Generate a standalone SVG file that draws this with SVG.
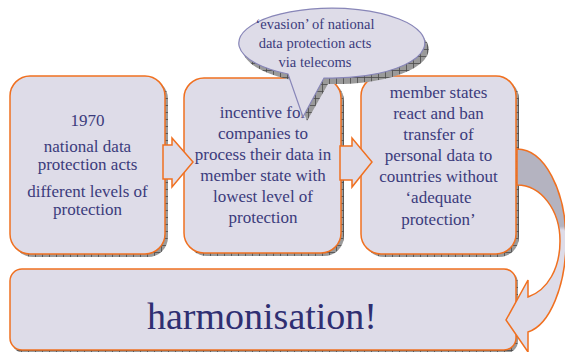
<svg xmlns="http://www.w3.org/2000/svg" width="565" height="352" viewBox="0 0 565 352">
<defs>
<pattern id="hatch" width="7" height="7" patternUnits="userSpaceOnUse">
<rect width="7" height="7" fill="#9a9a9a"/>
<path d="M0,0.5H7M0.5,0V7" stroke="#4a4a4a" stroke-width="0.8"/>
</pattern>
<linearGradient id="curveFill" gradientUnits="userSpaceOnUse" x1="0" y1="149" x2="0" y2="352">
<stop offset="0" stop-color="#b4b3c0"/>
<stop offset="0.38" stop-color="#b4b3c0"/>
<stop offset="0.4" stop-color="#dedce8"/>
<stop offset="1" stop-color="#dedce8"/>
</linearGradient>
</defs>
<style>
.box{fill:#dedce8;stroke:#f07020;stroke-width:1.5}
.shadow{fill:url(#hatch)}
.arrow{fill:#dedce8;stroke:#f07020;stroke-width:1.5;stroke-linejoin:miter}
text{font-family:'Liberation Serif','DejaVu Serif',serif;fill:#3b3b7c;text-anchor:middle}
.t{font-size:17px}
.ct{font-size:14.5px}
.big{font-size:38px;fill:#2f2f72}
</style>
<rect width="565" height="352" fill="#ffffff"/>

<g id="box1">
<rect class="shadow" x="13" y="79" width="155" height="178" rx="20"/>
<rect class="box" x="10" y="76" width="155" height="178" rx="20"/>
<text class="t" x="87.5" y="126">1970</text>
<text class="t" x="87.5" y="152">national data</text>
<text class="t" x="87.5" y="170">protection acts</text>
<text class="t" x="87.5" y="197">different levels of</text>
<text class="t" x="87.5" y="215">protection</text>
</g>

<g id="box2">
<rect class="shadow" x="187" y="81" width="157" height="175" rx="20"/>
<rect class="box" x="184" y="78" width="157" height="175" rx="20"/>
<text class="t" x="263" y="118">incentive for</text>
<text class="t" x="263" y="139">companies to</text>
<text class="t" x="263" y="160">process their data in</text>
<text class="t" x="263" y="181">member state with</text>
<text class="t" x="263" y="202">lowest level of</text>
<text class="t" x="263" y="223">protection</text>
</g>

<g id="box3">
<rect class="shadow" x="364" y="79" width="155" height="178" rx="20"/>
<rect class="box" x="361" y="76" width="155" height="178" rx="20"/>
<text class="t" x="438.5" y="98">member states</text>
<text class="t" x="438.5" y="119">react and ban</text>
<text class="t" x="438.5" y="140">transfer of</text>
<text class="t" x="438.5" y="161">personal data to</text>
<text class="t" x="438.5" y="182">countries without</text>
<text class="t" x="438.5" y="203">‘adequate</text>
<text class="t" x="438.5" y="225">protection’</text>
</g>

<g id="box4">
<rect class="shadow" x="12" y="271" width="506" height="82" rx="12"/>
<rect class="box" x="10" y="269" width="506" height="81" rx="12"/>
<text class="big" x="262" y="329">harmonisation!</text>
</g>

<g id="connectors">
<path class="arrow" d="M163,145 H172 V138 L193,162 L172,187 V179 H163 Z"/>
<path class="arrow" d="M340,146 H352 V138 L372,162 L352,187 V180 H340 Z"/>
<path d="M517,149 C544,149 566,190 566,241 C566,285 550,325 528,332 L528,352 L506,320 L528,280 L528,297 C548,290 560,268 560,241 C560,210 541,185 517,185 Z" fill="url(#curveFill)" stroke="#f07020" stroke-width="1.5"/>
</g>

<g id="callout">
<path class="shadow" d="M292,80 A93,35 0 1 1 328,84 L307,121 Z"/>
<path d="M288,74 A93,35 0 1 1 324,78 L303,117 Z" fill="#dedce8" stroke="#8886b8" stroke-width="1.2" stroke-linejoin="miter"/>
<text class="ct" x="315" y="29">‘evasion’ of national</text>
<text class="ct" x="315" y="48">data protection acts</text>
<text class="ct" x="315" y="67">via telecoms</text>
</g>
</svg>
